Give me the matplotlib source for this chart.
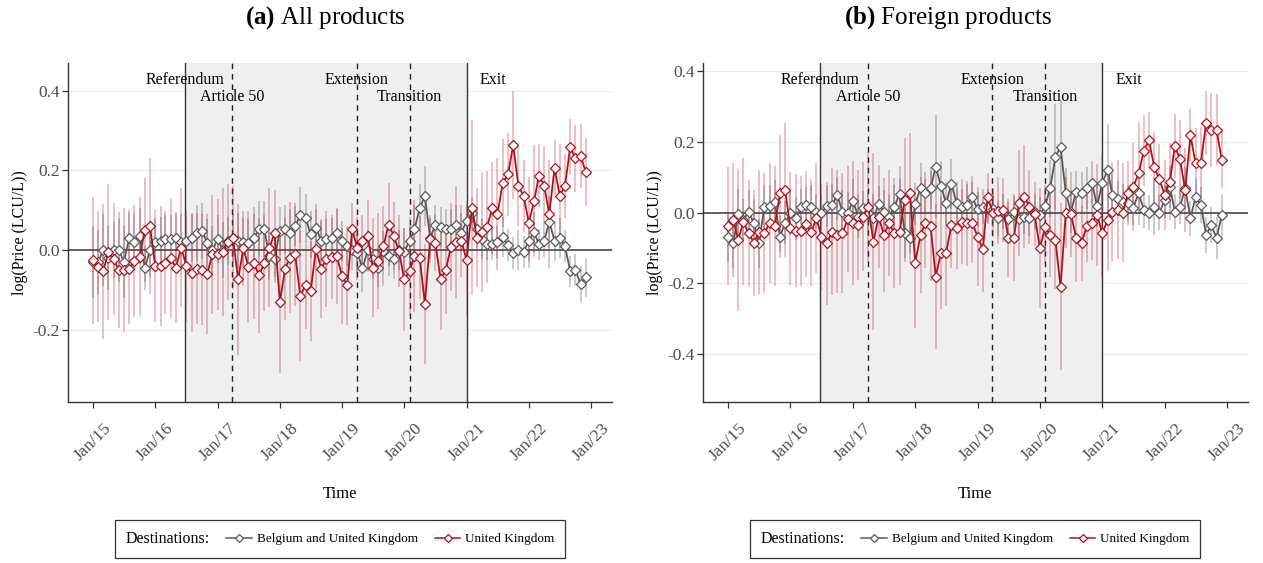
import numpy as np
import pandas as pd
import matplotlib
matplotlib.use("Agg")
import matplotlib.pyplot as plt
import matplotlib.dates as mdates
import matplotlib.transforms as mtransforms
from matplotlib.lines import Line2D

plt.rcParams["font.family"] = "Liberation Serif"
plt.rcParams["mathtext.fontset"] = "custom"
plt.rcParams["mathtext.rm"] = "Liberation Serif"
plt.rcParams["mathtext.bf"] = "Liberation Serif:bold"

# monthly observations, Jan 2015 - Dec 2022
MONTHS = pd.date_range("2015-01-01", "2022-12-01", freq="MS")

# ---- (a) All products ----
all_beuk = [
    -0.030, -0.030, 0.000, -0.020, 0.000, 0.000, -0.030, 0.030, 0.020, 0.035, -0.045, 0.000,
    0.020, 0.022, 0.027, 0.027, 0.030, 0.020, 0.022, 0.031, 0.042, 0.048, 0.018, 0.000,
    0.027, 0.000, 0.023, 0.031, 0.023, 0.020, 0.018, 0.031, 0.052, 0.052, -0.015, -0.022,
    0.048, 0.052, 0.044, 0.060, 0.088, 0.081, 0.039, 0.056, 0.023, 0.028, 0.031, 0.042,
    0.023, 0.010, 0.000, -0.007, -0.046, 0.000, -0.022, -0.044, -0.003, -0.015, -0.023, 0.000,
    -0.005, 0.023, 0.052, 0.106, 0.136, 0.031, 0.062, 0.058, 0.054, 0.052, 0.063, 0.044,
    0.073, 0.092, 0.054, 0.027, 0.016, 0.016, 0.020, 0.033, 0.012, -0.007, 0.000, -0.005,
    0.023, 0.045, 0.014, 0.023, 0.071, 0.023, 0.031, 0.010, -0.054, -0.050, -0.086, -0.069,
]
all_beuk_ci = [
    0.09, 0.08, 0.09, 0.08, 0.07, 0.08, 0.09, 0.07, 0.07, 0.07, 0.055, 0.07,
    0.06, 0.06, 0.06, 0.06, 0.06, 0.07, 0.06, 0.06, 0.07, 0.07, 0.06, 0.06,
    0.06, 0.07, 0.06, 0.06, 0.07, 0.06, 0.06, 0.06, 0.07, 0.07, 0.06, 0.06,
    0.06, 0.06, 0.06, 0.05, 0.07, 0.06, 0.06, 0.06, 0.05, 0.05, 0.05, 0.06,
    0.05, 0.05, 0.05, 0.05, 0.06, 0.05, 0.05, 0.05, 0.05, 0.05, 0.05, 0.05,
    0.06, 0.06, 0.06, 0.06, 0.075, 0.05, 0.05, 0.05, 0.05, 0.05, 0.05, 0.05,
    0.05, 0.04, 0.05, 0.05, 0.04, 0.04, 0.04, 0.05, 0.04, 0.04, 0.05, 0.04,
    0.05, 0.05, 0.04, 0.04, 0.065, 0.05, 0.05, 0.04, 0.04, 0.04, 0.045, 0.05,
]
all_uk = [
    -0.026, -0.042, -0.054, -0.005, -0.023, -0.050, -0.050, -0.047, -0.028, -0.017, 0.050, 0.060,
    -0.040, -0.040, -0.032, -0.021, -0.044, 0.006, -0.040, -0.057, -0.047, -0.049, -0.060, -0.011,
    -0.011, -0.005, 0.020, 0.031, -0.074, 0.004, -0.042, -0.033, -0.064, -0.033, 0.006, 0.042,
    -0.130, -0.047, -0.019, -0.011, -0.115, -0.088, -0.103, 0.002, -0.047, -0.023, -0.017, -0.015,
    -0.065, -0.089, 0.052, 0.004, 0.023, 0.035, -0.044, -0.028, 0.010, 0.064, 0.035, -0.003,
    -0.074, -0.053, -0.015, -0.019, -0.136, 0.027, 0.018, -0.072, -0.050, 0.008, 0.020, 0.023,
    -0.025, 0.106, 0.031, 0.045, 0.058, 0.106, 0.090, 0.169, 0.190, 0.264, 0.161, 0.136,
    0.069, 0.123, 0.187, 0.162, 0.090, 0.207, 0.136, 0.161, 0.259, 0.230, 0.236, 0.196,
]
all_uk_ci = [
    0.16, 0.14, 0.17, 0.17, 0.14, 0.145, 0.155, 0.14, 0.14, 0.15, 0.13, 0.17,
    0.14, 0.15, 0.13, 0.15, 0.14, 0.15, 0.14, 0.15, 0.14, 0.14, 0.15, 0.15,
    0.14, 0.16, 0.145, 0.13, 0.19, 0.095, 0.14, 0.14, 0.145, 0.12, 0.15, 0.11,
    0.18, 0.13, 0.14, 0.13, 0.165, 0.11, 0.125, 0.10, 0.125, 0.12, 0.105, 0.12,
    0.12, 0.10, 0.065, 0.08, 0.065, 0.09, 0.125, 0.12, 0.10, 0.105, 0.085, 0.09,
    0.13, 0.11, 0.14, 0.105, 0.15, 0.06, 0.07, 0.13, 0.11, 0.11, 0.14, 0.09,
    0.14, 0.22, 0.125, 0.15, 0.14, 0.115, 0.14, 0.11, 0.105, 0.135, 0.10, 0.09,
    0.115, 0.14, 0.08, 0.10, 0.135, 0.07, 0.13, 0.08, 0.07, 0.085, 0.08, 0.085,
]

# ---- (b) Foreign products ----
foreign_beuk = [
    -0.068, -0.085, -0.004, -0.020, 0.003, -0.030, -0.087, 0.017, 0.019, 0.031, -0.068, -0.028,
    -0.002, -0.016, 0.017, 0.022, 0.017, 0.003, 0.000, 0.019, 0.022, 0.050, 0.003, -0.002,
    0.034, -0.011, 0.012, 0.000, -0.016, 0.024, 0.003, -0.011, 0.017, 0.053, -0.058, -0.072,
    0.024, 0.069, 0.055, 0.069, 0.130, 0.075, 0.026, 0.081, 0.026, 0.017, 0.022, 0.045,
    0.009, 0.017, 0.017, 0.009, -0.016, 0.003, -0.019, 0.003, -0.019, -0.011, -0.016, 0.003,
    -0.007, 0.019, 0.069, 0.158, 0.186, 0.055, 0.003, 0.059, 0.055, 0.069, 0.085, 0.019,
    0.085, 0.120, 0.050, 0.040, 0.031, 0.026, 0.014, 0.055, 0.008, 0.000, 0.017, 0.000,
    0.036, 0.073, 0.003, 0.017, 0.069, -0.016, 0.045, 0.022, -0.063, -0.035, -0.072, -0.007,
]
foreign_beuk_ci = [
    0.07, 0.07, 0.07, 0.06, 0.06, 0.07, 0.07, 0.06, 0.06, 0.06, 0.06, 0.06,
    0.06, 0.06, 0.05, 0.05, 0.06, 0.05, 0.05, 0.06, 0.06, 0.07, 0.06, 0.06,
    0.06, 0.06, 0.05, 0.06, 0.07, 0.05, 0.06, 0.06, 0.06, 0.08, 0.07, 0.07,
    0.06, 0.07, 0.06, 0.06, 0.145, 0.07, 0.06, 0.07, 0.06, 0.05, 0.06, 0.06,
    0.05, 0.05, 0.05, 0.05, 0.05, 0.05, 0.05, 0.05, 0.05, 0.05, 0.05, 0.05,
    0.05, 0.06, 0.08, 0.15, 0.13, 0.07, 0.06, 0.06, 0.06, 0.06, 0.06, 0.06,
    0.08, 0.13, 0.06, 0.05, 0.05, 0.05, 0.05, 0.05, 0.05, 0.05, 0.08, 0.05,
    0.05, 0.06, 0.05, 0.05, 0.06, 0.05, 0.05, 0.05, 0.05, 0.05, 0.06, 0.06,
]
foreign_uk = [
    -0.038, -0.021, -0.077, -0.025, -0.058, -0.085, -0.054, -0.058, -0.030, -0.038, 0.055, 0.064,
    -0.044, -0.051, -0.051, -0.032, -0.056, -0.016, -0.068, -0.087, -0.054, -0.063, -0.058, -0.019,
    -0.030, -0.035, -0.011, 0.017, -0.082, -0.011, -0.063, -0.030, -0.058, -0.054, 0.036, 0.055,
    -0.141, -0.063, -0.030, -0.037, -0.181, -0.113, -0.113, -0.035, -0.044, -0.025, -0.030, -0.028,
    -0.068, -0.104, 0.043, 0.000, 0.006, 0.008, -0.072, -0.072, 0.028, 0.045, 0.017, -0.004,
    -0.100, -0.040, -0.063, -0.077, -0.209, 0.000, -0.004, -0.072, -0.087, -0.038, -0.030, -0.007,
    -0.058, -0.021, 0.003, 0.008, 0.000, 0.056, 0.073, 0.111, 0.175, 0.205, 0.128, 0.094,
    0.050, 0.088, 0.188, 0.151, 0.064, 0.219, 0.139, 0.141, 0.254, 0.233, 0.235, 0.149,
]
foreign_uk_ci = [
    0.167, 0.16, 0.20, 0.18, 0.15, 0.15, 0.175, 0.17, 0.17, 0.17, 0.165, 0.19,
    0.16, 0.16, 0.155, 0.15, 0.15, 0.155, 0.15, 0.175, 0.18, 0.165, 0.17, 0.15,
    0.175, 0.155, 0.155, 0.155, 0.25, 0.145, 0.16, 0.15, 0.155, 0.15, 0.175, 0.17,
    0.185, 0.165, 0.125, 0.155, 0.205, 0.16, 0.15, 0.12, 0.115, 0.12, 0.12, 0.115,
    0.14, 0.12, 0.07, 0.07, 0.095, 0.09, 0.11, 0.12, 0.15, 0.145, 0.105, 0.09,
    0.17, 0.105, 0.12, 0.14, 0.235, 0.10, 0.12, 0.125, 0.105, 0.10, 0.105, 0.145,
    0.125, 0.145, 0.14, 0.14, 0.14, 0.09, 0.125, 0.145, 0.10, 0.08, 0.10, 0.10,
    0.10, 0.11, 0.09, 0.11, 0.12, 0.075, 0.10, 0.10, 0.09, 0.105, 0.10, 0.08,
]

# Brexit milestones: label, date, line style, label height (axes fraction)
event_names = ["Referendum", "Article 50", "Extension", "Transition", "Exit"]
event_dates = ["2016-06-23", "2017-03-29", "2019-03-29", "2020-02-01", "2021-01-01"]
event_styles = ["-", "--", "--", "--", "-"]
event_heights = [0.95, 0.90, 0.95, 0.90, 0.95]

year_ticks = pd.date_range("2015-01-01", "2023-01-01", freq="YS")

GREY = "#595959"
RED = "#B0101C"


def draw_panel(ax, beuk, beuk_ci, uk, uk_ci, ylim, yticks):
    x = MONTHS
    beuk, beuk_ci = np.asarray(beuk), np.asarray(beuk_ci)
    uk, uk_ci = np.asarray(uk), np.asarray(uk_ci)

    for yv in yticks:
        ax.axhline(yv, color="#ebebeb", lw=0.8, zorder=0)

    ev = pd.to_datetime(event_dates)
    ax.axvspan(ev[0], ev[-1], color="#efefef", lw=0, zorder=0.5)
    for d, ls in zip(ev, event_styles):
        if ls == "--":
            ax.axvline(d, color="#222222", ls=ls, lw=1.0, dashes=(4, 3.5), zorder=1)
        else:
            ax.axvline(d, color="#333333", ls=ls, lw=1.0, zorder=1)

    ax.axhline(0, color="#555555", lw=1.3, zorder=1.5)

    ax.vlines(x, beuk - beuk_ci, beuk + beuk_ci, color=GREY, alpha=0.4, lw=1.1, zorder=2)
    ax.vlines(x, uk - uk_ci, uk + uk_ci, color=RED, alpha=0.33, lw=1.1, zorder=2.1)

    ax.plot(x, beuk, color=GREY, lw=1.3, marker="D", ms=5, mfc="white",
            mec=GREY, mew=0.9, zorder=3)
    ax.plot(x, uk, color=RED, lw=1.3, marker="D", ms=5, mfc="white",
            mec=RED, mew=0.9, zorder=3.1)

    trans = mtransforms.blended_transform_factory(ax.transData, ax.transAxes)
    for name, d, h in zip(event_names, ev, event_heights):
        if name == "Exit":
            ax.annotate(name, (mdates.date2num(d), h), xycoords=trans,
                        xytext=(9.5, 0), textcoords="offset points",
                        ha="left", va="center", fontsize=11.5)
        else:
            ax.text(d, h, name, transform=trans, ha="center", va="center",
                    fontsize=11.5)

    ax.set_xlim(pd.Timestamp("2014-08-07"), pd.Timestamp("2023-05-04"))
    ax.set_ylim(*ylim)
    ax.set_yticks(yticks)
    ax.set_yticklabels([f"{v:.1f}" for v in yticks])
    ax.set_xticks(year_ticks)
    ax.set_xticklabels([d.strftime("Jan/%y") for d in year_ticks],
                       rotation=45, ha="center", va="top")

    for s in ("top", "right"):
        ax.spines[s].set_visible(False)
    for s in ("left", "bottom"):
        ax.spines[s].set_color("#333333")
        ax.spines[s].set_linewidth(1.0)
    ax.tick_params(axis="both", colors="#333333", length=4, width=0.9,
                   labelcolor="#4d4d4d", labelsize=12.5)
    ax.tick_params(axis="x", pad=9)
    ax.tick_params(axis="y", pad=2)

    ax.set_xlabel("Time", fontsize=12, labelpad=16)
    ax.set_ylabel("log(Price (LCU/L))", fontsize=11.5, labelpad=3)


def add_legend(fig, xc, yc):
    handles = [
        Line2D([], [], color=GREY, lw=1.1, marker="D", ms=4.5, mfc="white", mec=GREY, mew=0.9),
        Line2D([], [], color=RED, lw=1.1, marker="D", ms=4.5, mfc="white", mec=RED, mew=0.9),
    ]
    labels = ["Belgium and United Kingdom", "United Kingdom"]
    leg = fig.legend(handles, labels, ncol=2, title="Destinations:",
                     loc="center", bbox_to_anchor=(xc, yc), bbox_transform=fig.transFigure,
                     fontsize=9.5, title_fontsize=11.5, frameon=True, fancybox=False,
                     edgecolor="black", handlelength=1.9, handletextpad=0.4,
                     columnspacing=1.3, borderpad=0.8)
    leg.get_frame().set_linewidth(0.9)
    # put the title on the same row as the entries
    box = leg.get_children()[0]
    title_box, entries = box.get_children()[0], box.get_children()[1]
    box._children = [entries]
    entries._children = [title_box] + entries.get_children()
    entries.align = "center"
    return leg


fig = plt.figure(figsize=(12.63, 5.63), dpi=100)
W, H = 1263, 563
ax_a = fig.add_axes([68 / W, 1 - 402 / H, 544 / W, 339 / H])
ax_b = fig.add_axes([703 / W, 1 - 402 / H, 545 / W, 339 / H])

draw_panel(ax_a, all_beuk, all_beuk_ci, all_uk, all_uk_ci,
           (-0.382, 0.47), [-0.2, 0.0, 0.2, 0.4])
draw_panel(ax_b, foreign_beuk, foreign_beuk_ci, foreign_uk, foreign_uk_ci,
           (-0.535, 0.423), [-0.4, -0.2, 0.0, 0.2, 0.4])

fig.text(325 / W, 1 - 18 / H, r"$\bf{(a)}$ All products", ha="center", va="center", fontsize=18)
fig.text(948 / W, 1 - 18 / H, r"$\bf{(b)}$ Foreign products", ha="center", va="center", fontsize=18)

add_legend(fig, 340 / W, 1 - 539 / H)
add_legend(fig, 975 / W, 1 - 539 / H)

fig.savefig("out.png", dpi=100)
